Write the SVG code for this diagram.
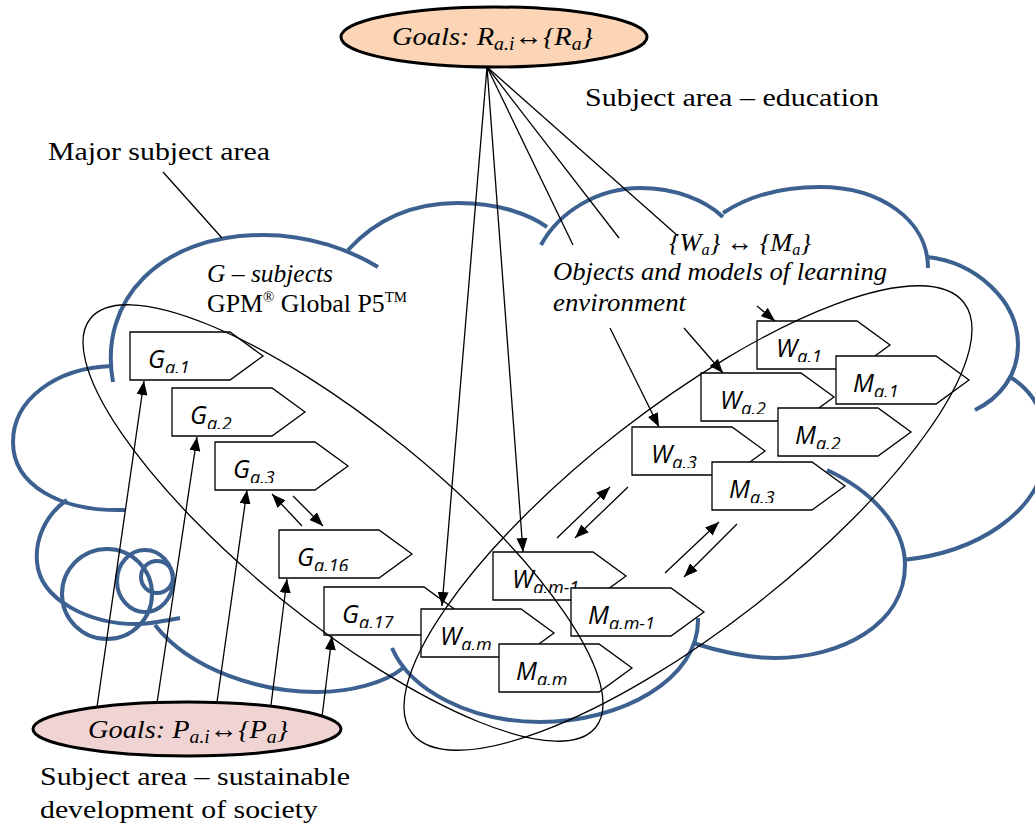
<svg xmlns="http://www.w3.org/2000/svg" width="1035" height="827" viewBox="0 0 1035 827">
<style>
.cloud{fill:none;stroke:#3C6190;stroke-width:4}
.ln{fill:none;stroke:#000;stroke-width:1.3}
.arr{marker-end:url(#ah)}
.box{fill:#fff;stroke:#000;stroke-width:1.3}
.lbl{font-family:"Open Sans","DejaVu Sans",sans-serif;font-style:italic;font-size:25px;fill:#000}
.sub{font-size:18px}
.rm{font-family:"Liberation Serif","Times New Roman",serif;font-size:26px;fill:#000}
.it{font-style:italic}
.ring{fill:none;stroke:#000;stroke-width:1.3}
.goal{stroke:#000;stroke-width:3}
</style>
<defs>
<marker id="ah" markerWidth="14" markerHeight="11" refX="14" refY="5.5" orient="auto" markerUnits="userSpaceOnUse"><path d="M0,0L14,5.5L0,11Z" fill="#000"/></marker>
<clipPath id="tc"><rect x="0" y="0" width="140" height="41"/></clipPath>
<path id="bx" d="M0,0H100L133,24L100,48H0Z"/>
</defs>

<g id="cloud" class="cloud">
<path d="M113,382 C98,300 160,235 263,235 C310,235 350,250 378,267"/>
<path d="M348,250 C380,215 420,203 458,203 C500,203 530,215 547,227"/>
<path d="M541,245 C560,210 600,188 640,188 C675,188 705,200 723,217"/>
<path d="M723,213 C750,195 785,187 820,187 C880,187 928,220 928,268"/>
<path d="M927,257 C975,262 1018,300 1018,345 C1018,375 1000,398 975,410"/>
<path d="M1010,377 C1040,395 1052,430 1045,462 C1035,512 980,552 903,560"/>
<path d="M827,470 C870,490 905,525 905,565 C905,625 840,658 775,658 C745,658 715,650 693,643"/>
<path d="M698,618 C700,680 620,722 540,722 C470,722 410,690 392,648"/>
<path d="M155,625 C190,670 260,692 317,692 C350,692 385,683 403,668"/>
<path d="M67,500 C45,515 35,540 37,562 C40,600 90,625 140,624 C155,623 168,620 180,618"/>
<path d="M112,366 C55,368 13,400 13,442 C13,485 60,512 125,510"/>
<circle cx="107" cy="594" r="45"/>
<ellipse cx="145" cy="581" rx="28" ry="31"/>
<circle cx="157" cy="577" r="16"/>
</g>

<g id="labels">
<text class="rm" x="48" y="160" font-size="27" textLength="222" lengthAdjust="spacingAndGlyphs">Major subject area</text>
<text class="rm" x="585" y="106" textLength="294" lengthAdjust="spacingAndGlyphs">Subject area – education</text>
<text class="rm" x="40" y="785" textLength="310" lengthAdjust="spacingAndGlyphs">Subject area – sustainable</text>
<text class="rm" x="40" y="818" textLength="278" lengthAdjust="spacingAndGlyphs">development of society</text>
<text class="rm it" x="207" y="282" font-size="25" textLength="126" lengthAdjust="spacingAndGlyphs">G – subjects</text>
<text class="rm" x="207" y="312" font-size="25" textLength="200" lengthAdjust="spacingAndGlyphs">GPM<tspan font-size="15" dy="-10">®</tspan><tspan dy="10"> Global P5</tspan><tspan font-size="15" dy="-10">TM</tspan></text>
<text class="rm it" x="669" y="251" font-size="25" textLength="142" lengthAdjust="spacingAndGlyphs">{W<tspan font-size="16" dy="4">a</tspan><tspan dy="-4">} </tspan><tspan font-style="normal">↔</tspan> {M<tspan font-size="16" dy="4">a</tspan><tspan dy="-4">}</tspan></text>
<text class="rm it" x="553" y="280" textLength="334" lengthAdjust="spacingAndGlyphs">Objects and models of learning</text>
<text class="rm it" x="553" y="311" textLength="133" lengthAdjust="spacingAndGlyphs">environment</text>
</g>

<g id="nodeG1" transform="translate(130,332)"><use href="#bx" class="box"/><text class="lbl" x="18" y="36" clip-path="url(#tc)">G<tspan class="sub" dy="6">a.1</tspan></text></g>
<g id="nodeG2" transform="translate(172,388)"><use href="#bx" class="box"/><text class="lbl" x="18" y="36" clip-path="url(#tc)">G<tspan class="sub" dy="6">a.2</tspan></text></g>
<g id="nodeG3" transform="translate(215,442)"><use href="#bx" class="box"/><text class="lbl" x="18" y="36" clip-path="url(#tc)">G<tspan class="sub" dy="6">a.3</tspan></text></g>
<g id="nodeG16" transform="translate(279,530)"><use href="#bx" class="box"/><text class="lbl" x="18" y="36" clip-path="url(#tc)">G<tspan class="sub" dy="6">a.16</tspan></text></g>
<g id="nodeG17" transform="translate(324,587)"><use href="#bx" class="box"/><text class="lbl" x="18" y="36" clip-path="url(#tc)">G<tspan class="sub" dy="6">a.17</tspan></text></g>
<g id="nodeW1" transform="translate(757,321)"><use href="#bx" class="box"/><text class="lbl" x="19" y="36" clip-path="url(#tc)">W<tspan class="sub" dy="6">a.1</tspan></text></g>
<g id="nodeM1" transform="translate(836,356)"><use href="#bx" class="box"/><text class="lbl" x="17" y="36" clip-path="url(#tc)">M<tspan class="sub" dy="6">a.1</tspan></text></g>
<g id="nodeW2" transform="translate(701,373)"><use href="#bx" class="box"/><text class="lbl" x="19" y="36" clip-path="url(#tc)">W<tspan class="sub" dy="6">a.2</tspan></text></g>
<g id="nodeM2" transform="translate(778,408)"><use href="#bx" class="box"/><text class="lbl" x="17" y="36" clip-path="url(#tc)">M<tspan class="sub" dy="6">a.2</tspan></text></g>
<g id="nodeW3" transform="translate(632,427)"><use href="#bx" class="box"/><text class="lbl" x="19" y="36" clip-path="url(#tc)">W<tspan class="sub" dy="6">a.3</tspan></text></g>
<g id="nodeM3" transform="translate(712,462)"><use href="#bx" class="box"/><text class="lbl" x="17" y="36" clip-path="url(#tc)">M<tspan class="sub" dy="6">a.3</tspan></text></g>
<g id="nodeWm1" transform="translate(493,552)"><use href="#bx" class="box"/><text class="lbl" x="19" y="36" clip-path="url(#tc)">W<tspan class="sub" dy="6">a.m-1</tspan></text></g>
<g id="nodeMm1" transform="translate(571,588)"><use href="#bx" class="box"/><text class="lbl" x="17" y="36" clip-path="url(#tc)">M<tspan class="sub" dy="6">a.m-1</tspan></text></g>
<g id="nodeWm" transform="translate(421,609)"><use href="#bx" class="box"/><text class="lbl" x="19" y="36" clip-path="url(#tc)">W<tspan class="sub" dy="6">a.m</tspan></text></g>
<g id="nodeMm" transform="translate(499,644)"><use href="#bx" class="box"/><text class="lbl" x="17" y="36" clip-path="url(#tc)">M<tspan class="sub" dy="6">a.m</tspan></text></g>

<g id="groups">
<ellipse class="ring" cx="343" cy="523" rx="325" ry="98" transform="rotate(39 343 523)"/>
<ellipse class="ring" cx="688" cy="518" rx="350" ry="110" transform="rotate(-38 688 518)"/>
</g>

<g id="connectors" class="ln">
<line x1="163" y1="172" x2="222" y2="238"/>
<line class="arr" x1="487" y1="67" x2="442" y2="606"/>
<line class="arr" x1="487" y1="67" x2="523" y2="552"/>
<line x1="487" y1="67" x2="573" y2="245"/>
<line x1="487" y1="67" x2="619" y2="238"/>
<line x1="487" y1="67" x2="678" y2="236"/>
<line class="arr" x1="610" y1="328" x2="659" y2="427"/>
<line class="arr" x1="684" y1="328" x2="723" y2="373"/>
<line class="arr" x1="757" y1="306" x2="775" y2="321"/>
<line class="arr" x1="97" y1="707" x2="144" y2="381"/>
<line class="arr" x1="157" y1="703" x2="197" y2="437"/>
<line class="arr" x1="217" y1="702" x2="247" y2="490"/>
<line class="arr" x1="271" y1="705" x2="287" y2="579"/>
<line class="arr" x1="322" y1="717" x2="332" y2="636"/>
<line class="arr" x1="302" y1="526" x2="272" y2="494"/>
<line class="arr" x1="293" y1="496" x2="323" y2="526"/>
<line class="arr" x1="557" y1="538" x2="610" y2="487"/>
<line class="arr" x1="628" y1="487" x2="575" y2="538"/>
<line class="arr" x1="665" y1="573" x2="719" y2="522"/>
<line class="arr" x1="737" y1="524" x2="684" y2="577"/>
</g>

<g id="goalR">
<ellipse class="goal" cx="494" cy="37" rx="153" ry="30" fill="#FBD5B5"/>
<text class="rm it" x="392" y="45" font-size="27" textLength="201" lengthAdjust="spacingAndGlyphs">Goals: R<tspan font-size="18" dy="5">a.i</tspan><tspan dy="-5" font-style="normal">↔</tspan>{R<tspan font-size="18" dy="5">a</tspan><tspan dy="-5">}</tspan></text>
</g>
<g id="goalP">
<ellipse class="goal" cx="187" cy="729" rx="154" ry="27" fill="#F0D4D3"/>
<text class="rm it" x="88" y="738" font-size="27" textLength="200" lengthAdjust="spacingAndGlyphs">Goals: P<tspan font-size="18" dy="5">a.i</tspan><tspan dy="-5" font-style="normal">↔</tspan>{P<tspan font-size="18" dy="5">a</tspan><tspan dy="-5">}</tspan></text>
</g>
</svg>
